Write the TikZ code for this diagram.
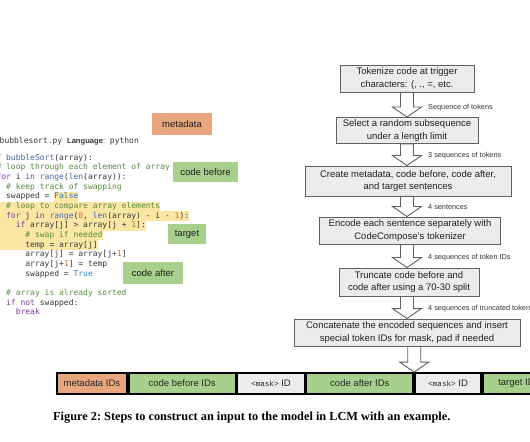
\documentclass[tikz,border=0pt]{standalone}
\usepackage{fontspec}
\setmainfont{Liberation Serif}
\setsansfont{Liberation Sans}
\setmonofont{DejaVu Sans Mono}
\newfontfamily\maskfont{Liberation Mono}
\usetikzlibrary{calc,backgrounds}
\definecolor{orangefill}{RGB}{231,166,125}
\definecolor{greenfill}{RGB}{168,208,141}
\definecolor{grayfill}{RGB}{236,236,236}
\definecolor{boxline}{RGB}{95,95,95}
\definecolor{hlc}{RGB}{252,230,163}
\definecolor{ckwc}{RGB}{125,55,160}
\definecolor{cfnc}{RGB}{60,105,170}
\definecolor{ccmc}{RGB}{85,140,60}
\definecolor{cnumc}{RGB}{205,110,40}
\definecolor{cboolc}{RGB}{45,120,200}
\definecolor{ctxt}{RGB}{55,55,55}
\newcommand\ckw[1]{\textcolor{ckwc}{#1}}
\newcommand\cfn[1]{\textcolor{cfnc}{#1}}
\newcommand\ccm[1]{\textcolor{ccmc}{#1}}
\newcommand\cnum[1]{\textcolor{cnumc}{#1}}
\newcommand\cbool[1]{\textcolor{cboolc}{#1}}
\newcommand\flowarrow[2]{%
  \draw[barrow] let \p1=(#1), \p2=(#2) in
    (\x2-6.5bp,\y1) -- (\x2-6.5bp,\y2+10bp) -- (\x2-14.5bp,\y2+10bp) -- (\x2,\y2)
    -- (\x2+14.5bp,\y2+10bp) -- (\x2+6.5bp,\y2+10bp) -- (\x2+6.5bp,\y1) -- cycle;}
\tikzset{
  codeline/.style={anchor=base west, inner sep=0pt, text=ctxt,
    font=\fontsize{8bp}{9.67bp}\ttfamily},
  flowbox/.style={draw=boxline, fill=grayfill, line width=0.9bp, align=center,
    inner sep=0pt, text=black!88,
    font=\sffamily\fontsize{9.5bp}{12.4bp}\selectfont},
  barrow/.style={draw=boxline, fill=white, line width=0.9bp, line join=miter},
  steplabel/.style={anchor=west, inner sep=0pt, text=black!80,
    font=\sffamily\fontsize{7.3bp}{8bp}\selectfont},
  tag/.style={inner sep=0pt, text=black!88,
    font=\sffamily\fontsize{9.5bp}{11bp}\selectfont},
  cell/.style={draw=black, line width=1.8bp, anchor=west, inner sep=0pt,
    minimum height=21bp, text=black!85,
    font=\sffamily\fontsize{9.5bp}{11bp}\selectfont}
}
\begin{document}
\begin{tikzpicture}[x=1bp,y=-1bp]
\useasboundingbox (0,0) rectangle (530,442);

% ---------- code listing ----------
\node[codeline] (hdr) at (-0.5,143.5) {bubblesort.py {\sffamily\fontsize{7.6bp}{9bp}\selectfont\bfseries Language}{\sffamily\fontsize{7.6bp}{9bp}\selectfont:} python};
\node[codeline] (c0) at ({-13.3+0*4.816},160.2) {\ckw{def} \cfn{bubbleSort}(array):};
\node[codeline] (c1) at ({-13.3+2*4.816},169.87) {\ccm{\# loop through each element of array}};
\node[codeline] (c2) at ({-13.3+2*4.816},179.54) {\ckw{for} i \ckw{in} \cfn{range}(\cfn{len}(array)):};
\node[codeline] (c3) at ({-13.3+4*4.816},189.21) {\ccm{\# keep track of swapping}};
\node[codeline] (c4) at ({-13.3+4*4.816},198.88) {swapped = \cbool{False}};
\node[codeline] (c5) at ({-13.3+4*4.816},208.55) {\ccm{\# loop to compare array elements}};
\node[codeline] (c6) at ({-13.3+4*4.816},218.22) {\ckw{for} j \ckw{in} \cfn{range}(\cnum{0}, \cfn{len}(array) - i - \cnum{1}):};
\node[codeline] (c7) at ({-13.3+6*4.816},227.89) {\ckw{if} array[j] > array[j + \cnum{1}]:};
\node[codeline] (c8) at ({-13.3+8*4.816},237.56) {\ccm{\# swap if needed}};
\node[codeline] (c9) at ({-13.3+8*4.816},247.23) {temp = array[j]};
\node[codeline] (c10) at ({-13.3+8*4.816},256.9) {array[j] = array[j+\cnum{1}]};
\node[codeline] (c11) at ({-13.3+8*4.816},266.57) {array[j+\cnum{1}] = temp};
\node[codeline] (c12) at ({-13.3+8*4.816},276.24) {swapped = \cbool{True}};
\node[codeline] (c14) at ({-13.3+4*4.816},295.58) {\ccm{\# array is already sorted}};
\node[codeline] (c15) at ({-13.3+4*4.816},305.25) {\ckw{if} \ckw{not} swapped:};
\node[codeline] (c16) at ({-13.3+6*4.816},314.92) {\ckw{break}};

\begin{pgfonlayer}{background}
  \fill[hlc] (54.1,191.85) rectangle (78.4,201.52);
  \fill[hlc] (-2,201.52) rectangle (c5.east |- 0,211.19);
  \fill[hlc] (-2,211.19) rectangle (c6.east |- 0,220.86);
  \fill[hlc] (-2,220.86) rectangle (c7.east |- 0,230.53);
  \fill[hlc] (-2,230.53) rectangle (c8.east |- 0,240.2);
  \fill[hlc] (-2,240.2) rectangle (c9.east |- 0,249.87);
\end{pgfonlayer}

% ---------- part tags ----------
\node[tag, fill=orangefill, minimum width=60bp, minimum height=22bp] (tmeta) at (182,124.5) {metadata};
\node[tag, fill=greenfill, minimum width=65bp, minimum height=20bp] (tbefore) at (205.5,172) {code before};
\node[tag, fill=greenfill, minimum width=38bp, minimum height=20bp] (ttarget) at (187,234) {target};
\node[tag, fill=greenfill, minimum width=60bp, minimum height=22bp] (tafter) at (153,273) {code after};

% ---------- flow chart ----------
\node[flowbox, minimum width=134bp, minimum height=27bp] (b1) at (407,78.5) {Tokenize code at trigger\\characters: (, ., =, etc.};
\node[flowbox, minimum width=142bp, minimum height=26bp] (b2) at (407,130.5) {Select a random subsequence\\under a length limit};
\node[flowbox, minimum width=206bp, minimum height=30bp] (b3) at (408,181) {Create metadata, code before, code after,\\and target sentences};
\node[flowbox, minimum width=181bp, minimum height=27bp] (b4) at (410,230.5) {Encode each sentence separately with\\CodeCompose's tokenizer};
\node[flowbox, minimum width=140bp, minimum height=28bp] (b5) at (409,282) {Truncate code before and\\code after using a 70-30 split};
\node[flowbox, minimum width=226bp, minimum height=27bp] (b6) at (407,332.5) {Concatenate the encoded sequences and insert\\special token IDs for mask, pad if needed};

% ---------- token bar ----------
\node[cell, fill=orangefill, minimum width=70bp] (m1) at (56,383.5) {metadata IDs};
\node[cell, fill=greenfill, minimum width=107bp] (m2) at (m1.east) {code before IDs};
\node[cell, fill=grayfill, minimum width=67bp] (m3) at (m2.east) {{\maskfont\fontsize{7.6bp}{9bp}\selectfont <mask>}\ ID};
\node[cell, fill=greenfill, minimum width=107bp] (m4) at (m3.east) {code after IDs};
\node[cell, fill=grayfill, minimum width=66bp] (m5) at (m4.east) {{\maskfont\fontsize{7.6bp}{9bp}\selectfont <mask>}\ ID};
\node[cell, fill=greenfill, minimum width=72bp] (m6) at (m5.east) {target IDs};

% ---------- arrows ----------
\coordinate (a1) at (407,0 |- b2.north);
\coordinate (a2) at (407,0 |- b3.north);
\coordinate (a3) at (407,0 |- b4.north);
\coordinate (a4) at (407,0 |- b5.north);
\coordinate (a5) at (407,0 |- b6.north);
\flowarrow{b1.south}{a1}
\flowarrow{b2.south}{a2}
\flowarrow{b3.south}{a3}
\flowarrow{b4.south}{a4}
\flowarrow{b5.south}{a5}
\flowarrow{b6.south}{m4.north east}

\node[steplabel] (l1) at ($(a1)+(21,-9.5)$) {Sequence of tokens};
\node[steplabel] (l2) at ($(a2)+(21,-9.5)$) {3 sequences of tokens};
\node[steplabel] (l3) at ($(a3)+(21,-9.5)$) {4 sentences};
\node[steplabel] (l4) at ($(a4)+(21,-9.5)$) {4 sequences of token IDs};
\node[steplabel] (l5) at ($(a5)+(21,-9.5)$) {4 sequences of truncated token IDs};

% ---------- caption ----------
\node[anchor=west, inner sep=0pt, font=\rmfamily\bfseries\fontsize{12.3bp}{14bp}\selectfont\frenchspacing] (cap) at (53,418) {Figure 2: Steps to construct an input to the model in LCM with an example.};
\end{tikzpicture}
\end{document}
